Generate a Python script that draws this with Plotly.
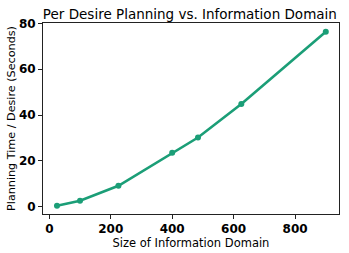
import plotly.graph_objects as go

domain_size = [25, 100, 225, 400, 484, 625, 900]
planning_time = [0.4, 2.6, 9.1, 23.5, 30.2, 44.8, 76.4]
x_ticks = [0, 200, 400, 600, 800]
y_ticks = [0, 20, 40, 60, 80]

color = "#1b9e77"
font = "DejaVu Sans"

fig = go.Figure()
fig.add_trace(go.Scatter(
    x=domain_size, y=planning_time, mode="lines+markers",
    line=dict(color=color, width=2.6),
    marker=dict(color=color, size=6),
    showlegend=False,
))

axis_common = dict(
    showline=True, linecolor="#222222", linewidth=1, mirror=True,
    ticks="outside", ticklen=4, tickcolor="#222222", tickwidth=1,
    showgrid=False, zeroline=False, automargin=False,
    tickfont=dict(family=font, size=12, color="black", weight="bold"),
)

fig.update_layout(
    width=349, height=253,
    margin=dict(l=43, r=10, t=23, b=39),
    paper_bgcolor="white", plot_bgcolor="white",
    font=dict(family=font, color="black"),
    title=dict(text="Per Desire Planning vs. Information Domain",
               x=0.544, xanchor="center", y=0.945, yanchor="middle",
               font=dict(family=font, size=13.5, color="black")),
    xaxis=dict(range=[-20.5, 943], tickvals=x_ticks,
               title=dict(text="Size of Information Domain", standoff=3,
                          font=dict(family=font, size=11.5, color="black")),
               **axis_common),
    yaxis=dict(range=[-3.2, 80.2], tickvals=y_ticks,
               title=dict(text="Planning Time / Desire (Seconds)", standoff=0,
                          font=dict(family=font, size=11.2, color="black")),
               **axis_common),
)

fig.write_html("out.html", config={"displayModeBar": False},
               post_script="document.body.style.margin='0';")
